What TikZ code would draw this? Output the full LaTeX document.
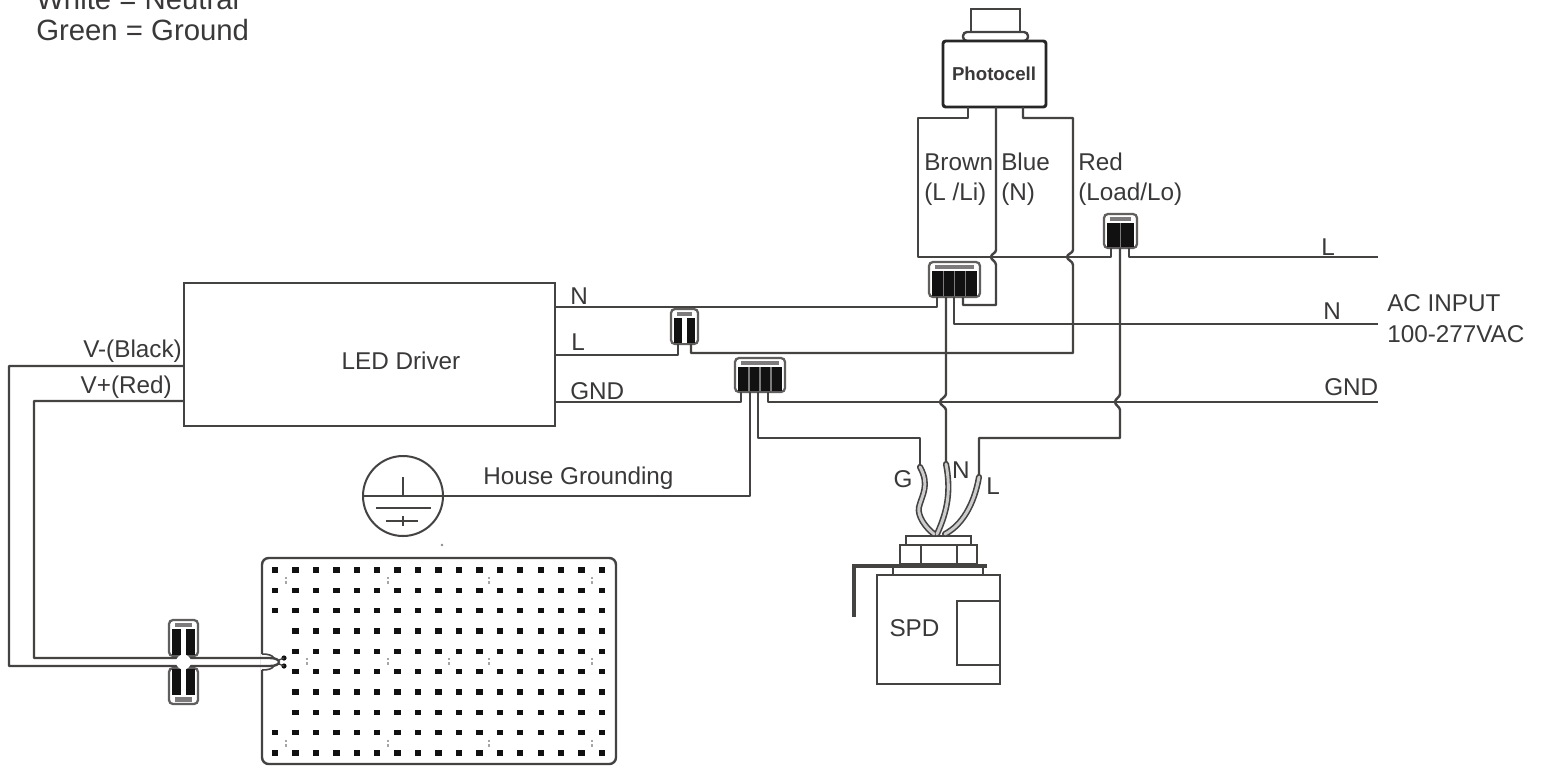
\documentclass[tikz,border=0pt]{standalone}
\usepackage{fontspec}
\setmainfont{Liberation Sans}
\definecolor{ink}{HTML}{454242}
\definecolor{txt}{HTML}{3A3838}
\definecolor{nutfill}{HTML}{111111}
\tikzset{
  wire/.style={draw=ink,line width=1.8pt,line join=round},
  lab/.style={text=txt,font=\fontsize{18.2}{20}\selectfont,inner sep=0pt},
  labw/.style={lab,anchor=west},
  box/.style={draw=ink,line width=1.8pt,inner sep=0pt,outer sep=0pt,fill=white},
  nutbox/.style={draw=ink!85,line width=1.7pt,rounded corners=3pt,inner sep=0pt,outer sep=0pt,fill=white},
  cableout/.style={draw=ink,line width=4.6pt,line cap=round},
  cablein/.style={draw=white!80!black,line width=2.2pt,line cap=round},
}
% name, centre x, centre y, width, height, strips, direction (1 = bar at top, -1 = bar at bottom), strip half width, strip colour
\newcommand{\wirenut}[9]{%
  \node[nutbox,minimum width=#4*0.75pt,minimum height=#5*0.75pt] (#1) at (#2,#3) {};
  \begin{scope}[shift={(#2,#3)},yscale=#7]
    \fill[nutfill] ({-(#4)/2+3},{-(#5)/2+9}) rectangle ({(#4)/2-3},{(#5)/2-1});
    \fill[ink!70] ({-(#4)/2+6},{-(#5)/2+2.5}) rectangle ({(#4)/2-6},{-(#5)/2+7});
    \foreach \i in {1,...,#6}{
      \fill[#9] ({-(#4)/2+3+\i*((#4)-6)/(#6+1)-#8},{-(#5)/2+9}) rectangle ({-(#4)/2+3+\i*((#4)-6)/(#6+1)+#8},{(#5)/2-1});
    }
  \end{scope}
}
\begin{document}
\begin{tikzpicture}[x=0.75pt,y=-0.75pt]
\clip (0,0) rectangle (1542,765);
\fill[white] (0,0) rectangle (1542,765);

% legend
\node[labw,font=\fontsize{22}{24}\selectfont] (legw) at (36,-1) {White = Neutral};
\node[labw,font=\fontsize{22}{24}\selectfont] (legg) at (36,30) {Green = Ground};

% photocell
\node[box,line width=2pt,minimum width=49*0.75pt,minimum height=23*0.75pt] (cap) at (995.5,20.5) {};
\node[box,rounded corners=3pt,minimum width=65*0.75pt,minimum height=9*0.75pt] (flange) at (995.5,36.5) {};
\node[box,draw=black!85,line width=2.2pt,rounded corners=2pt,minimum width=103*0.75pt,minimum height=66*0.75pt] (ph) at (994.5,74) {};
\node[text=txt,inner sep=0pt,font=\bfseries\fontsize{14}{16}\selectfont] (phl) at (994,74) {Photocell};

% driver
\node[box,minimum width=371*0.75pt,minimum height=143*0.75pt] (drv) at (369.5,354.5) {};
\node[lab] (drvl) at (401,361) {LED Driver};

% wire nuts
\wirenut{nr}{1120.5}{231}{33}{34}{1}{1}{0.6}{ink!70}
\wirenut{nm}{954.5}{279.5}{51}{35}{3}{1}{0.6}{ink!70}
\wirenut{na}{684.5}{326.5}{27}{35}{1}{1}{2.2}{white}
\wirenut{nb}{760}{375}{50}{34}{3}{1}{0.6}{ink!70}
\wirenut{nt}{183.5}{638}{29}{36}{1}{1}{2.2}{white}
\wirenut{nu}{183.5}{686}{29}{36}{1}{-1}{2.2}{white}

% ground symbol
\node[draw=ink,line width=1.5pt,circle,minimum size=80*0.75pt,inner sep=0pt,outer sep=0pt] (gs) at (403,496) {};
\draw[wire,line width=1.4pt] (403,477) -- (403,496);
\draw[wire,line width=1.4pt] (gs.west) -- (gs.east);
\draw[wire,line width=1.4pt] (376,508) -- (431,508);
\draw[wire,line width=1.4pt] (386,521) -- (418,521);
\draw[wire,line width=1.4pt] (403,516) -- (403,526);

% terminals and free ends
\coordinate (acl) at (1378,257);
\coordinate (acn) at (1378,324);
\coordinate (acg) at (1378,402);
\coordinate (drvN) at (555,307);
\coordinate (drvL) at (555,355);
\coordinate (drvG) at (555,402);
\coordinate (vm) at (184,366);
\coordinate (vp) at (184,401);

% brown
\draw[wire] (968,107) |- (918,118) |- (1111,257) -- (1111,248);
\draw[wire] (1129,248) -- (1129,257) -- (acl);
% blue
\draw[wire] (996,107) -- (996,250) .. controls (996,253) and (991,254) .. (991,257) .. controls (991,260) and (996,261) .. (996,265) |- (963,305) -- (963,297);
% red
\draw[wire] (1023,107) |- (1073,118) -- (1073,250) .. controls (1073,253) and (1067,254) .. (1067,257) .. controls (1067,260) and (1073,261) .. (1073,265) |- (691,353) -- (691,344);
% N, L from driver
\draw[wire] (drvN) -- (937,307) -- (937,297);
\draw[wire] (drvL) -- (678,355) -- (678,344);
% AC neutral
\draw[wire] (954,297) |- (acn);
% ground
\draw[wire] (drvG) -- (741,402) -- (741,392);
\draw[wire] (768,392) -- (768,402) -- (acg);
\draw[wire] (750,392) |- (gs.east);
\draw[wire] (758,392) |- (920,438) -- (920,466);
% to SPD N
\draw[wire] (946,297) -- (946,394) .. controls (946,397) and (940,399) .. (940,402) .. controls (940,405) and (946,407) .. (946,410) -- (946,463);
% to SPD L
\draw[wire] (1120,248) -- (1120,394) .. controls (1120,397) and (1115,399) .. (1115,402) .. controls (1115,405) and (1120,407) .. (1120,410) |- (979,438) -- (979,476);

% SPD
\node[box,minimum width=123*0.75pt,minimum height=109*0.75pt] (spd) at (938.5,629.5) {};
\node[box,minimum width=43*0.75pt,minimum height=64*0.75pt] (spdw) at (978.5,633) {};
\node[lab] (spdl) at (914.5,628) {SPD};
\node[box,line width=1.5pt,minimum width=77*0.75pt,minimum height=19*0.75pt] (nut) at (938.5,554.5) {};
\node[box,line width=1.5pt,minimum width=65*0.75pt,minimum height=9*0.75pt] (plate) at (938.5,540.5) {};
\draw[wire,line width=1.3pt] (921,545) -- (921,564);
\draw[wire,line width=1.3pt] (957,545) -- (957,564);
\draw[wire,line width=1.3pt] (893,566) -- (893,575);
\draw[wire,line width=1.3pt] (983,566) -- (983,575);
\draw[draw=ink,line width=3.2pt,line join=miter] (987,566) -- (854,566) -- (854,617);

% SPD leads
\foreach \st in {cableout,cablein}{
  \draw[\st] (920,467) .. controls (930,485) and (922,495) .. (919,507) .. controls (917,516) and (926,528) .. (934,534);
  \draw[\st] (946,464) .. controls (951,490) and (948,510) .. (937,534);
  \draw[\st] (979,477) .. controls (974,505) and (962,525) .. (945,534);
}
\node[lab] (lg) at (903,479) {G};
\node[lab] (ln) at (961,470) {N};
\node[lab] (ll) at (993,486) {L};

% LED board
\node[box,rounded corners=5pt,minimum width=354*0.75pt,minimum height=206*0.75pt] (board) at (439,661) {};
\foreach \c in {0,...,16}{
  \foreach \r in {0,...,9}{
    \pgfmathtruncatemacro{\skip}{(\c==0 && \r>2 && \r<8) ? 1 : 0}
    \ifnum\skip=0
      \fill[nutfill] ({275+\c*20.44-3.2},{570+\r*20.33-2.7}) rectangle ({275+\c*20.44+3.2},{570+\r*20.33+2.7});
    \fi
  }
}
\foreach \x/\y in {286/580,388/580,489/580,592/580,307/661,388/661,449/661,489/661,592/661,286/743,388/743,489/743,592/743}{
  \fill[black!35] (\x-1,\y-3.5) rectangle (\x+1,\y-1);
  \fill[black!35] (\x-1,\y+1) rectangle (\x+1,\y+3.5);
}
\fill[black!45] (442,545) circle (1pt);

% output wires
\coordinate (bt) at (270,658);
\coordinate (bb) at (270,666);
\fill[white] (261,654) rectangle (272,670);
\draw[wire] (vm) -- (9,366) |- (bb) .. controls (276,666) and (279,664) .. (279,662);
\draw[wire] (vp) -- (34,401) |- (bt) .. controls (276,658) and (279,660) .. (279,662);
\draw[wire,line width=1.2pt] (262,654) .. controls (268,654) and (272,655) .. (274,658);
\draw[wire,line width=1.2pt] (262,670) .. controls (268,670) and (272,669) .. (274,666);
\fill[nutfill] (284,658) circle (2.6);
\fill[nutfill] (284,666) circle (2.6);
\draw[wire,line width=1pt] (279,660) -- (284,658);
\draw[wire,line width=1pt] (279,664) -- (284,666);
\fill[white] (183.5,662) circle (7.5);

% labels
\node[labw] at (570,296) {N};
\node[labw] at (571,342) {L};
\node[labw] at (570,391) {GND};
\node[lab,anchor=east] at (182,351) {V-(Black)};
\node[lab,anchor=east] at (172,387) {V+(Red)};
\node[labw] at (483,478) {House Grounding};
\node[labw] at (924,162) {Brown};
\node[labw] at (924,194) {(L /Li)};
\node[labw] at (1001,162) {Blue};
\node[labw] at (1001,194) {(N)};
\node[labw] at (1078,162) {Red};
\node[labw] at (1078,194) {(Load/Lo)};
\node[labw] at (1321,247) {L};
\node[labw] at (1323,311) {N};
\node[labw] at (1324,387) {GND};
\node[labw] at (1387,303) {AC INPUT};
\node[labw] at (1387,334) {100-277VAC};
\end{tikzpicture}
\end{document}
